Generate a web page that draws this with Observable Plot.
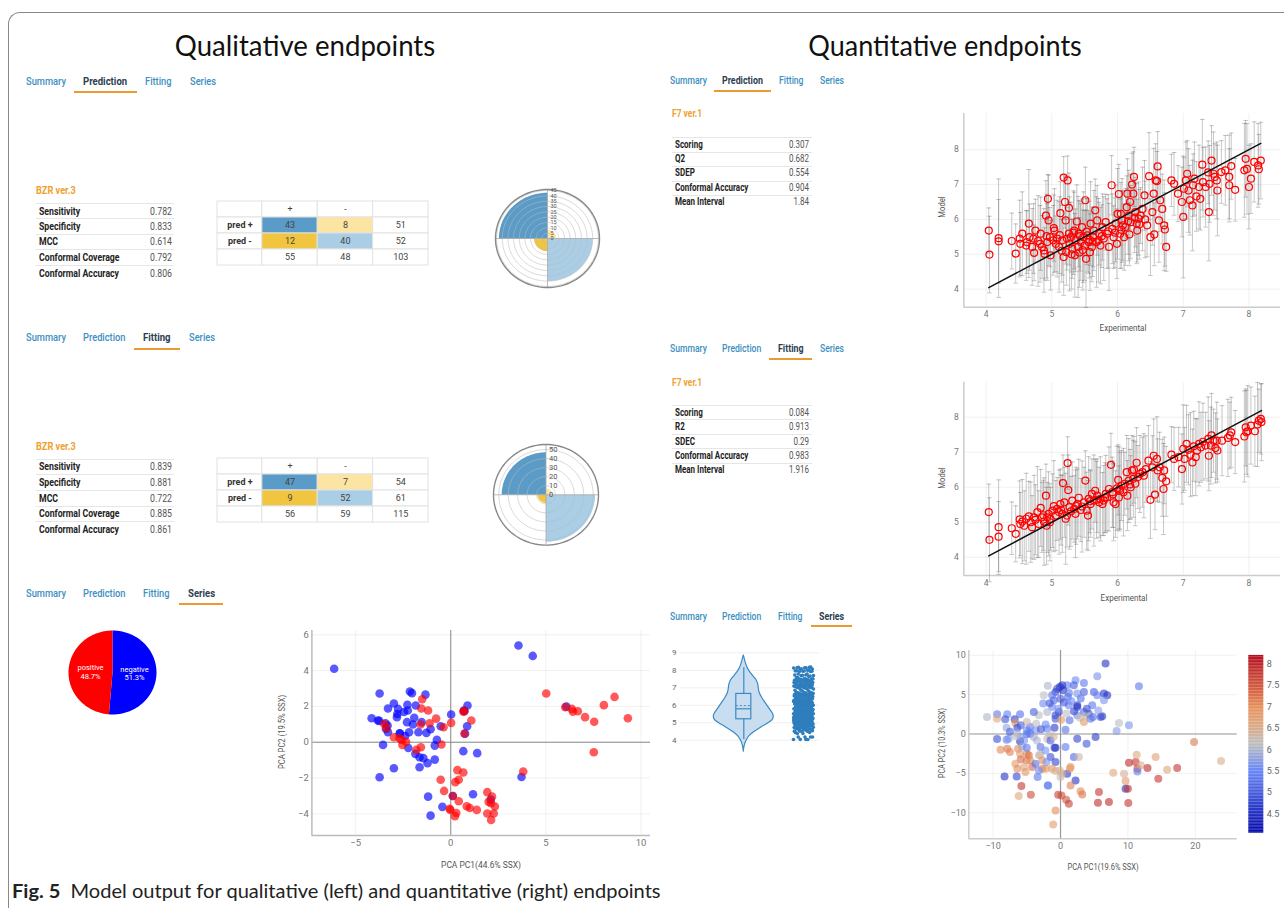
<!DOCTYPE html>
<html><head><meta charset="utf-8">
<script src="https://cdn.jsdelivr.net/npm/d3@7"></script>
<script src="https://cdn.jsdelivr.net/npm/@observablehq/plot@0.6"></script>
<style>
html,body{margin:0;padding:0;background:#fff;}
body{width:1284px;height:908px;position:relative;overflow:hidden;}
</style></head><body>
<script>
// ---------------- DATA ----------------
const panelTitles = ["Qualitative endpoints", "Quantitative endpoints"];
const captionBold = "Fig. 5";
const captionText = "Model output for qualitative (left) and quantitative (right) endpoints";
const tabNames = ["Summary", "Prediction", "Fitting", "Series"];
const qualModel = "BZR ver.3";
const quantModel = "F7 ver.1";
const qualMetricNames = ["Sensitivity", "Specificity", "MCC", "Conformal Coverage", "Conformal Accuracy"];
const qualPredValues = ["0.782", "0.833", "0.614", "0.792", "0.806"];
const qualFitValues = ["0.839", "0.881", "0.722", "0.885", "0.861"];
const quantPredNames = ["Scoring", "Q2", "SDEP", "Conformal Accuracy", "Mean Interval"];
const quantPredValues = ["0.307", "0.682", "0.554", "0.904", "1.84"];
const quantFitNames = ["Scoring", "R2", "SDEC", "Conformal Accuracy", "Mean Interval"];
const quantFitValues = ["0.084", "0.913", "0.29", "0.983", "1.916"];
const cmRowLabels = ["pred +", "pred -"];
const cmColLabels = ["+", "-"];
const cmPred = [[43, 8], [12, 40]];
const cmFit = [[47, 7], [9, 52]];
const polarTicksPred = [0, 5, 10, 15, 20, 25, 30, 35, 40, 45];
const polarTicksFit = [0, 10, 20, 30, 40, 50];
const pieLabels = ["negative", "positive"];
const pieValues = [51.3, 48.7];
const pcaQualAxes = ["PCA PC1(44.6% SSX)", "PCA PC2 (19.5% SSX)"];
const pcaQuantAxes = ["PCA PC1(19.6% SSX)", "PCA PC2 (10.3% SSX)"];
const scatterAxes = ["Experimental", "Model"];

// qualitative PCA scores (negative = blue, positive = red)
const pcaNegative = [[-6.13,4.10],[3.56,5.40],[4.31,4.82],[-3.74,2.72],[-2.15,2.83],[-2.04,2.74],[-1.33,2.66],[-2.99,2.16],[-3.30,1.88],[-2.77,1.86],[-2.81,1.58],[-2.46,1.69],[-2.28,2.09],[-2.26,1.77],[-1.84,2.05],[-4.16,1.34],[-3.83,1.21],[-3.76,1.19],[-2.83,1.40],[-1.92,1.36],[-2.30,1.12],[-1.99,0.99],[-1.53,1.12],[-3.32,0.93],[-3.30,0.56],[-2.68,0.50],[-2.19,0.56],[-1.70,0.56],[-1.28,0.52],[-1.06,0.73],[-0.53,0.89],[0.02,1.55],[0.88,2.05],[0.69,1.77],[0.86,0.89],[-0.73,0.13],[-3.56,-0.15],[-2.23,-0.32],[-1.86,-0.65],[-1.64,-0.84],[-1.44,-0.89],[-0.84,-0.19],[-0.84,-0.97],[-1.22,-1.17],[-1.64,-1.40],[-2.99,-1.45],[-3.74,-1.96],[0.66,-0.50],[1.39,-0.61],[6.08,1.99],[3.72,-1.94],[-1.19,-3.04],[-0.44,-3.61],[-1.06,-4.10],[1.17,-2.91],[2.10,-3.20],[0.11,-3.00],[0.71,1.73],[0.75,0.48],[-2.68,0.48],[-2.40,0.35],[-3.43,1.06],[-3.41,0.75]];
const pcaPositive = [[-1.50,2.40],[-1.55,1.88],[-1.19,1.77],[-0.77,1.32],[-1.11,1.06],[-1.59,0.99],[-0.38,0.84],[0.02,1.08],[1.08,1.21],[0.66,1.71],[-2.99,0.28],[-2.59,0.13],[-2.35,0.02],[-2.54,-0.15],[-1.57,-0.28],[-1.81,-0.43],[-0.49,-0.13],[5.02,2.72],[6.02,1.96],[6.37,1.86],[6.42,1.71],[6.68,1.73],[7.06,1.40],[7.54,1.14],[8.05,2.07],[8.61,2.53],[9.31,1.34],[7.52,-0.56],[3.81,-1.64],[0.35,-1.56],[0.66,-1.69],[-0.53,-2.10],[0.24,-2.23],[0.42,-2.10],[-0.35,-2.72],[0.42,-3.30],[-0.02,-3.78],[-0.06,-3.72],[0.29,-3.95],[0.22,-4.13],[0.84,-3.58],[1.00,-3.67],[1.37,-3.78],[1.92,-2.79],[2.17,-3.04],[1.99,-3.33],[2.32,-3.59],[1.92,-3.98],[2.26,-3.98],[2.12,-4.34],[0.11,-3.00],[-3.50,1.02],[-3.38,0.78],[-2.70,0.22],[0.72,0.48],[0.72,1.75],[2.12,-3.40]];

// quantitative: [experimental, model, half interval]
const predPoints = [[4.04,5.68,0.65],[4.05,4.99,1.1],[4.19,5.46,1.7],[4.19,5.37,1.2],[4.39,5.38,0.8],[4.45,5.02,0.85],[4.51,5.45,1.1],[4.52,5.30,0.9],[4.55,5.59,1.2],[4.61,5.25,1.0],[4.65,5.88,1.55],[4.66,5.49,0.95],[4.70,5.21,1.1],[4.73,5.04,0.8],[4.75,5.68,0.9],[4.79,5.38,1.3],[4.83,5.59,1.05],[4.85,5.21,0.9],[4.88,5.11,1.2],[4.89,5.01,0.75],[4.91,6.11,1.0],[4.93,5.35,1.1],[4.94,6.59,0.7],[4.95,5.97,1.3],[4.97,5.49,0.85],[4.98,4.97,1.0],[5.03,5.75,0.95],[5.04,5.68,1.2],[5.06,5.30,0.8],[5.08,5.45,1.1],[5.11,5.21,1.3],[5.13,6.18,0.9],[5.16,5.40,1.0],[5.18,4.92,1.1],[5.18,7.20,0.6],[5.20,6.50,0.75],[5.21,5.97,1.25],[5.22,5.06,0.95],[5.24,7.12,0.7],[5.26,6.33,1.0],[5.26,5.59,0.9],[5.27,5.30,1.35],[5.29,5.49,1.0],[5.31,5.16,0.85],[5.34,5.68,1.1],[5.35,4.97,1.2],[5.36,5.40,0.9],[5.38,5.94,1.05],[5.40,5.21,1.45],[5.41,5.59,0.95],[5.44,5.35,1.1],[5.46,5.78,0.8],[5.48,5.49,1.3],[5.50,5.25,1.0],[5.51,6.55,0.95],[5.52,4.87,1.4],[5.54,5.54,1.05],[5.56,5.35,0.9],[5.59,5.88,1.2],[5.61,5.21,1.0],[5.63,5.49,0.85],[5.64,5.68,1.15],[5.66,6.26,0.9],[5.68,5.35,1.3],[5.69,5.97,1.0],[5.72,5.59,0.9],[5.74,5.25,1.1],[5.77,5.78,0.95],[5.79,5.45,1.2],[5.82,5.92,0.8],[5.84,5.59,1.0],[5.87,5.21,1.25],[5.91,6.98,0.85],[5.92,5.73,1.0],[5.94,5.49,0.9],[5.97,5.88,1.1],[5.99,5.30,1.0],[6.00,6.16,1.3],[6.02,6.73,0.85],[6.04,5.59,1.0],[6.05,6.16,0.9],[6.07,5.97,1.2],[6.10,5.49,0.95],[6.12,5.78,1.1],[6.14,6.35,0.9],[6.15,6.74,1.0],[6.17,6.11,1.3],[6.19,6.50,0.8],[6.20,5.92,1.05],[6.22,7.00,0.9],[6.24,6.74,1.2],[6.25,7.22,0.85],[6.27,6.21,1.0],[6.29,5.88,1.15],[6.30,5.68,0.9],[6.32,6.02,1.05],[6.35,6.11,0.8],[6.38,6.30,1.2],[6.41,6.69,1.0],[6.45,5.83,0.9],[6.48,7.24,1.25],[6.50,5.49,1.1],[6.53,6.21,0.95],[6.55,6.74,1.3],[6.56,5.57,0.9],[6.58,7.12,1.05],[6.60,7.10,0.85],[6.61,7.52,1.0],[6.63,5.97,1.2],[6.65,6.55,0.9],[6.68,6.30,1.0],[6.71,5.83,1.3],[6.72,5.71,1.05],[6.74,5.21,0.7],[6.82,7.12,0.75],[6.86,7.02,0.9],[6.92,6.74,0.8],[6.98,6.50,1.0],[7.00,6.07,1.75],[7.01,6.88,0.9],[7.04,7.12,1.1],[7.06,7.31,0.95],[7.08,6.83,1.2],[7.10,6.55,1.0],[7.14,6.40,1.3],[7.15,6.98,0.9],[7.17,7.17,1.05],[7.20,6.66,1.0],[7.24,6.93,1.2],[7.26,6.59,0.9],[7.29,7.57,1.3],[7.30,7.07,1.0],[7.34,6.93,1.15],[7.38,7.35,0.9],[7.39,6.21,1.4],[7.40,7.02,1.1],[7.43,7.69,1.0],[7.46,7.31,1.2],[7.48,7.22,0.95],[7.51,7.12,1.1],[7.52,6.83,1.3],[7.58,7.36,0.9],[7.64,7.41,1.0],[7.70,7.22,1.2],[7.70,6.98,1.05],[7.73,7.53,0.95],[7.79,6.85,0.9],[7.93,7.41,1.35],[7.95,7.74,1.1],[7.97,7.45,1.3],[8.00,6.93,1.2],[8.03,7.17,1.0],[8.08,7.65,1.15],[8.14,7.55,1.2],[8.15,7.44,1.0],[8.18,7.69,1.1],[5.02,5.40,1.0],[5.12,5.55,1.1],[5.23,5.45,0.9],[5.33,5.62,1.2],[5.43,5.52,1.0],[5.53,5.65,0.95],[5.57,5.42,1.1],[5.62,5.36,1.0],[5.71,5.40,1.2],[5.76,5.52,0.9],[5.86,5.66,1.05],[5.96,5.62,1.0],[6.06,5.70,1.1],[6.16,5.95,0.95],[6.26,6.05,1.0],[4.82,5.30,1.1],[4.72,5.45,1.0],[4.62,5.35,0.9],[4.92,5.52,1.2],[5.42,5.05,1.0],[5.58,5.06,1.1],[5.15,5.10,0.9],[5.30,5.00,1.0],[5.47,5.12,1.15],[6.33,5.86,1.0],[6.42,6.00,1.1],[6.08,5.83,1.0],[6.18,5.57,0.9]];
const fitPoints = [[4.04,5.29,0.8],[4.05,4.50,1.2],[4.19,4.86,1.35],[4.19,4.59,1.0],[4.39,4.83,0.75],[4.45,4.67,0.8],[4.51,5.08,1.1],[4.52,4.95,0.9],[4.55,5.02,1.2],[4.58,4.90,1.0],[4.61,5.10,1.3],[4.65,5.17,1.0],[4.68,5.00,1.15],[4.70,4.86,0.9],[4.73,5.14,1.2],[4.75,5.07,1.0],[4.78,5.29,1.3],[4.80,4.95,0.95],[4.83,5.41,1.1],[4.85,5.14,1.0],[4.88,5.02,1.25],[4.91,5.76,0.9],[4.92,4.90,1.1],[4.93,5.14,1.0],[4.95,5.24,1.2],[4.98,5.10,0.9],[5.01,5.33,1.05],[5.03,5.46,1.3],[5.06,5.19,1.0],[5.08,5.38,0.9],[5.11,5.29,1.2],[5.13,5.52,1.0],[5.16,5.24,1.1],[5.17,6.12,0.8],[5.19,5.57,1.0],[5.21,5.10,1.3],[5.23,5.19,0.9],[5.24,6.69,0.75],[5.25,5.92,1.0],[5.27,5.43,1.2],[5.29,5.31,1.0],[5.31,5.62,1.1],[5.34,5.38,0.95],[5.36,5.24,1.25],[5.39,5.52,1.0],[5.41,5.70,1.1],[5.44,5.35,0.9],[5.46,5.45,1.3],[5.49,5.57,1.0],[5.51,6.19,0.85],[5.53,5.33,1.1],[5.55,5.19,1.0],[5.56,5.67,1.2],[5.59,5.52,0.95],[5.61,5.81,1.0],[5.64,5.62,1.3],[5.66,5.90,0.9],[5.69,5.76,1.05],[5.72,5.57,1.0],[5.74,5.67,1.2],[5.77,5.52,0.9],[5.79,5.62,1.0],[5.82,5.81,1.1],[5.84,5.71,0.95],[5.87,5.95,1.2],[5.90,6.64,0.9],[5.92,5.86,1.0],[5.94,5.57,1.1],[5.97,5.52,0.95],[5.99,5.97,1.2],[6.01,6.21,1.0],[6.02,5.71,0.9],[6.04,5.90,1.1],[6.06,6.05,1.0],[6.09,5.86,1.25],[6.11,6.10,0.9],[6.14,6.43,1.05],[6.15,5.76,1.0],[6.17,6.19,1.2],[6.20,6.00,0.9],[6.22,6.48,1.0],[6.24,6.24,1.1],[6.25,6.50,0.95],[6.27,6.10,1.2],[6.29,6.70,1.0],[6.31,6.29,0.9],[6.34,6.38,1.1],[6.38,6.43,1.0],[6.40,6.33,1.2],[6.43,6.52,0.95],[6.47,6.76,1.0],[6.50,5.64,1.1],[6.53,6.57,0.9],[6.55,6.90,1.05],[6.57,5.79,1.0],[6.60,6.81,1.2],[6.61,6.48,0.9],[6.64,6.57,1.0],[6.68,6.27,1.1],[6.70,5.95,1.3],[6.71,6.48,0.95],[6.74,6.17,1.0],[6.82,6.93,0.8],[6.86,6.81,0.9],[6.93,6.86,0.85],[6.98,6.52,1.0],[7.00,7.10,1.25],[7.02,6.81,0.9],[7.05,7.24,1.1],[7.08,7.07,1.0],[7.11,6.93,1.2],[7.14,6.71,0.95],[7.16,7.17,1.0],[7.19,6.86,1.1],[7.21,7.05,0.9],[7.24,7.24,1.2],[7.27,7.14,1.0],[7.30,7.30,1.1],[7.34,7.19,0.95],[7.38,7.38,1.2],[7.39,6.90,1.0],[7.42,7.19,1.1],[7.43,7.48,1.2],[7.46,7.33,0.9],[7.49,7.12,1.0],[7.51,7.33,1.1],[7.52,7.05,0.9],[7.59,7.33,1.0],[7.68,7.41,1.1],[7.71,7.48,0.95],[7.73,7.57,1.0],[7.79,7.29,0.9],[7.93,7.45,1.3],[7.95,7.71,1.1],[7.96,7.57,1.2],[7.98,7.60,1.3],[8.03,7.76,1.1],[8.09,7.60,1.0],[8.13,7.79,1.2],[8.15,7.90,0.9],[8.18,7.95,1.0],[8.19,7.86,1.1],[5.14,5.35,1.0],[5.37,5.47,1.1],[5.58,5.60,0.9],[5.81,5.70,1.0],[6.03,5.95,1.2],[6.19,6.08,1.0],[5.68,5.64,1.1],[5.93,5.80,0.95],[4.87,5.20,1.0],[4.97,5.00,1.1]];

// violin of the series values
const violinY = [8.85,8.6,8.3,8.0,7.7,7.45,7.2,6.95,6.7,6.4,6.1,5.8,5.55,5.35,5.15,4.95,4.75,4.5,4.25,4.0,3.75,3.5,3.35];
const violinDensity = [0,0.04,0.09,0.17,0.30,0.42,0.48,0.50,0.53,0.62,0.74,0.86,0.96,1.0,0.96,0.80,0.60,0.38,0.20,0.10,0.04,0.01,0];
const boxQuartiles = [4.05, 5.2, 5.8, 6.65, 8.15]; // low whisker, Q1, median, Q3, high whisker
const boxMean = 5.98;

// quantitative PCA scores: [PC1, PC2, value]
const pcaQuant = [[6.68,8.94,4.5],[11.63,6.06,5.3],[5.45,7.33,5.6],[2.23,6.82,5.5],[3.47,6.48,5.3],[0.99,6.19,5.4],[0.25,6.19,4.6],[-0.1,5.97,4.4],[-0.5,5.76,4.8],[0.4,5.55,4.5],[-0.74,5.34,4.7],[1.24,5.21,5.3],[1.98,6.19,5.0],[2.48,5.13,5.6],[3.47,5.34,5.0],[-1.88,6.14,6.0],[-2.48,4.92,6.1],[-1.24,4.92,5.3],[-0.99,4.28,5.1],[0,4.49,5.0],[1.09,4.70,5.2],[2.48,3.64,4.6],[2.48,3.43,4.5],[1.24,3.64,5.4],[4.95,5.34,5.0],[5.45,4.92,5.4],[6.44,5.13,4.6],[6.93,4.92,4.5],[6.44,4.28,5.6],[4.7,3.64,5.3],[4.2,2.58,5.0],[4.8,2.16,5.2],[5.94,2.16,4.8],[6.19,2.25,4.7],[3.47,2.80,5.1],[2.48,2.37,5.5],[2.87,2.08,6.2],[3.47,1.53,6.8],[3.81,2.37,6.3],[4.46,1.95,5.3],[-0.25,2.80,4.7],[-0.74,2.37,4.8],[-1.24,3.43,5.5],[-1.98,2.80,6.0],[-2.57,3.86,5.5],[-3.22,2.37,6.1],[-3.96,2.80,5.0],[-0.74,1.95,4.9],[0.1,1.82,6.8],[1.34,1.74,5.2],[0.74,0.55,5.2],[-0.89,0.81,4.6],[8.66,1.40,6.1],[8.32,0.38,5.7],[10.15,1.10,5.6],[2.48,-0.59,4.7],[3.86,-1.23,4.9],[5.20,-0.38,4.6],[0.74,-1.65,5.3],[-0.74,-1.74,4.5],[1.98,-2.92,5.1],[2.72,-2.92,6.3],[-0.74,-3.56,4.7],[0.99,-5.04,4.6],[2.23,-5.89,4.5],[-1.83,-6.53,5.4],[-10.9,2.16,6.0],[-9.4,2.50,5.3],[-9.4,1.95,6.6],[-7.9,2.50,5.4],[-8.2,1.86,4.9],[-6.8,1.86,4.6],[-6.0,2.50,5.2],[-6.7,1.40,6.9],[-6.4,0.81,4.7],[-8.0,0.81,5.8],[-9.4,-0.64,4.8],[-8.0,-0.72,5.4],[-7.7,-0.59,5.6],[-6.4,0.04,6.0],[-6.0,-0.93,4.5],[-5.0,0.47,5.5],[-4.5,0.89,5.3],[-5.0,1.53,6.3],[-5.0,-0.04,5.2],[-3.7,0.47,5.6],[-3.6,1.31,6.1],[-4.5,0.04,5.1],[-5.9,-0.38,5.7],[-5.4,-0.81,5.6],[-3.5,-0.81,6.0],[-1.98,0.68,5.4],[-1.58,-0.17,6.2],[-1.98,-0.59,6.2],[-1.49,-0.81,5.0],[-0.89,-1.74,4.6],[-8.9,-1.99,7.0],[-7.9,-1.86,7.2],[-7.5,-2.29,7.1],[-6.3,-1.86,7.0],[-6.0,-2.50,6.8],[-5.0,-2.50,7.0],[-4.7,-2.71,7.3],[-5.0,-3.35,7.2],[-5.9,-3.22,7.3],[-6.7,-3.77,6.8],[-6.4,-4.41,7.0],[-5.4,-4.19,6.7],[-5.2,-4.83,6.9],[-4.5,-3.35,7.0],[-4.2,-4.19,7.3],[-3.7,-3.77,5.2],[-3.2,-2.71,6.4],[-3.0,-2.63,6.2],[-2.7,-3.35,7.0],[-2.7,-4.41,7.1],[-2.2,-4.41,6.9],[-3.2,-4.62,5.5],[-3.4,-5.47,5.3],[-8.3,-5.38,4.5],[-6.5,-5.38,4.7],[-6.2,-7.88,6.6],[-5.8,-6.61,7.8],[-4.4,-7.71,7.6],[-1.9,-6.53,5.4],[-1.24,-4.41,6.9],[-0.74,-4.7,6.5],[-0.1,-4.62,6.4],[0.25,-5.04,6.5],[0,-5.47,6.2],[1.49,-4.19,7.0],[1.39,-4.41,6.8],[1.49,-6.53,7.1],[-0.35,-7.71,7.7],[0.15,-7.8,7.6],[0.84,-8.35,7.5],[1.24,-8.86,7.7],[2.97,-7.25,7.0],[3.22,-7.67,7.2],[-0.74,-9.70,7.0],[-1.09,-11.48,6.8],[5.7,-7.37,7.8],[5.55,-8.73,7.9],[7.18,-8.64,7.9],[10.05,-8.77,7.8],[7.82,-4.92,6.6],[9.41,-5.04,6.4],[9.65,-5.97,6.8],[9.65,-6.95,4.5],[10.0,-6.95,7.8],[10.15,-3.64,7.9],[11.14,-3.56,7.8],[11.29,-2.63,6.6],[11.4,-4.41,7.7],[11.4,-4.75,5.4],[11.9,-3.98,6.5],[12.9,-4.32,7.9],[14.1,-2.92,6.7],[14.5,-5.68,7.8],[15.8,-4.53,6.6],[17.3,-4.32,7.8],[19.8,-1.02,7.2],[23.8,-3.43,6.5],[-5.9,1.10,5.0],[-4.7,0.25,5.5],[-3.96,-0.38,5.9],[-2.97,-1.65,5.2],[-2.23,-2.08,5.6],[-1.49,-2.92,4.8],[-2.08,-3.56,5.6],[-5.7,-1.57,5.8],[-5.0,-1.74,5.3],[0.5,4.0,4.9],[1.6,4.2,5.5],[3.0,4.5,5.2],[3.9,3.2,4.8],[5.6,3.0,5.7],[-1.6,3.9,4.9],[-0.3,3.2,5.6],[0.9,2.6,6.1],[2.0,2.9,4.7],[-2.2,1.2,5.5],[-2.9,0.6,4.9],[-1.0,-0.3,6.3],[-6.6,-0.3,6.1],[-7.5,0.3,5.0]];
const colorbarTicks = [4.5, 5, 5.5, 6, 6.5, 7, 7.5, 8];

// ---------------- STYLE / HELPERS ----------------
const COND = 'Roboto,sans-serif';
const HUM = 'Lato,"Open Sans",sans-serif';
const roleColor = {TP: "#5b9bc7", FP: "#fce4a3", FN: "#f2c541", TN: "#a9cee5"};
const tabBlue = "#3d8fbf", tabDark = "#2c3e50", orange = "#eb9a30";
const fmt = d3.format("~g");

function T(s, x, y, o = {}) {
  const size = o.size || 10;
  const d = document.createElement("div");
  d.textContent = s;
  const tx = o.anchor === "middle" ? "-50%" : o.anchor === "end" ? "-100%" : "0";
  const origin = o.anchor === "middle" || o.rotate ? "center" : o.anchor === "end" ? "right" : "left";
  d.style.cssText = `position:absolute;left:${x}px;top:${y}px;font-family:${o.font || COND};font-size:${size}px;font-weight:${o.weight || 400};color:${o.color || "#333"};white-space:nowrap;line-height:1;transform-origin:${origin} center;`;
  document.body.appendChild(d);
  let k = o.sx || 1;
  if (o.fit) k = o.fit / d.offsetWidth;
  d.style.transform = `translate(${tx},-50%)${o.rotate ? ` rotate(${o.rotate}deg)` : ""} scaleX(${k})`;
  return d;
}
function measure(s, size, weight, font) {
  const d = T(s, 0, -100, {size, weight, font});
  const w = d.offsetWidth;
  d.remove();
  return w;
}
function box(x, y, w, h, bg) {
  const d = document.createElement("div");
  d.style.cssText = `position:absolute;left:${x}px;top:${y}px;width:${w}px;height:${h}px;background:${bg};`;
  document.body.appendChild(d);
  return d;
}
function put(svg, x, y) {
  svg.style.position = "absolute";
  svg.style.left = x + "px";
  svg.style.top = y + "px";
  document.body.appendChild(svg);
}
const baseStyle = {background: "transparent", fontFamily: COND, fontSize: "9px", color: "#777", overflow: "visible"};

const kTabL = 44.3 / measure("Prediction", 11, 700);
const kTabR = 41 / measure("Prediction", 11, 700);
const kTabL2 = 42.3 / measure("Prediction", 11, 500);
const kTabR2 = 39 / measure("Prediction", 11, 500);
function tabs(xs, y, active, ul, k, k2) {
  tabNames.forEach((t, i) => T(t, xs[i], y, {size: 11, weight: i === active ? 700 : 500, color: i === active ? tabDark : tabBlue, sx: i === active ? k : k2}));
  box(ul[0], ul[2] - 1, ul[1] - ul[0], 2, orange);
}
const kTblL = 80.3 / measure("Conformal Accuracy", 10, 700);
const kTblR = 73.6 / measure("Conformal Accuracy", 10, 700);
function metricTable(title, names, values, o, k, titleW) {
  T(title, o.tx, o.ty, {size: 11, weight: 700, color: "#f0a030", fit: titleW});
  names.forEach((n, i) => {
    box(o.x1, o.lines[i], o.x2 - o.x1, 1, "#e6e6e6");
    T(n, o.lx, o.rows[i], {size: 10, weight: 700, color: "#222", sx: k});
    T(values[i], o.vx, o.rows[i], {size: 10, color: "#555", anchor: "end", sx: k});
  });
}

// ---------------- FRAME / TITLES ----------------
const frame = box(8, 12, 1400, 1000, "transparent");
frame.style.borderLeft = "1.5px solid #888";
frame.style.borderTop = "1.5px solid #888";
frame.style.borderTopLeftRadius = "12px";

T(panelTitles[0], 305, 44, {size: 29, font: HUM, color: "#111", anchor: "middle", fit: 260});
T(panelTitles[1], 945, 44, {size: 29, font: HUM, color: "#111", anchor: "middle", fit: 274});

const cap = document.createElement("div");
cap.innerHTML = `<b>${captionBold}</b>&nbsp;&nbsp;${captionText}`;
cap.style.cssText = `position:absolute;left:12px;top:890px;font-family:${HUM};font-size:19px;color:#222;white-space:nowrap;line-height:1;transform-origin:left center;`;
document.body.appendChild(cap);
cap.style.transform = `translateY(-50%) scaleX(${649 / cap.offsetWidth})`;

// ---------------- TABS ----------------
tabs([26, 83, 145.3, 189.7], 80.7, 1, [74, 136.7, 92.3], kTabL, kTabL2);
tabs([26, 83, 143.3, 189], 336.7, 2, [134.3, 180.3, 349], kTabL, kTabL2);
tabs([26, 83, 143, 187.7], 593.3, 3, [178.9, 223.5, 604.3], kTabL, kTabL2);
tabs([670, 722, 779, 820], 80, 1, [714, 771, 90.7], kTabR, kTabR2);
tabs([670, 722, 777.7, 820], 347.7, 2, [769, 812, 358.7], kTabR, kTabR2);
tabs([670, 722, 777.7, 819], 616, 3, [810.7, 852.3, 626], kTabR, kTabR2);

// ---------------- METRIC TABLES ----------------
metricTable(qualModel, qualMetricNames, qualPredValues, {tx: 36, ty: 190, x1: 36, x2: 174, lx: 39, vx: 172,
  rows: [211.7, 226.7, 242.3, 258, 273.7], lines: [202.7, 218.3, 233.7, 249.3, 264.7]}, kTblL, 40);
metricTable(qualModel, qualMetricNames, qualFitValues, {tx: 36, ty: 446, x1: 36, x2: 174, lx: 39, vx: 172,
  rows: [467.3, 483, 498.7, 514.3, 530], lines: [458.7, 474.3, 490, 505.7, 521]}, kTblL, 40);
metricTable(quantModel, quantPredNames, quantPredValues, {tx: 671.7, ty: 113.3, x1: 671.7, x2: 811.7, lx: 674.7, vx: 809.3,
  rows: [144.7, 159, 173.3, 187.7, 202], lines: [136.7, 151.7, 166, 180.7, 195]}, kTblR, 30);
metricTable(quantModel, quantFitNames, quantFitValues, {tx: 671.7, ty: 381.7, x1: 671.7, x2: 811.7, lx: 674.7, vx: 809.3,
  rows: [412.7, 427.3, 441.7, 456, 470.3], lines: [404.7, 419.3, 433.7, 448.3, 462.7]}, kTblR, 30);

// ---------------- CONFUSION MATRICES ----------------
// column extents in units of one value column (label column is narrower)
const cmColumns = {lab: [-0.81, 0], c0: [0, 1], c1: [1, 2], tot: [2, 3]};
function confMatrix(cm, left, top) {
  const roles = [["TP", "FP"], ["FN", "TN"]];
  const cells = [
    {c: "lab", r: "h", t: ""}, {c: "c0", r: "h", t: cmColLabels[0]}, {c: "c1", r: "h", t: cmColLabels[1]}, {c: "tot", r: "h", t: ""}
  ];
  cm.forEach((row, i) => {
    cells.push({c: "lab", r: "r" + i, t: cmRowLabels[i], bold: true});
    cells.push({c: "c0", r: "r" + i, t: row[0], role: roles[i][0]});
    cells.push({c: "c1", r: "r" + i, t: row[1], role: roles[i][1]});
    cells.push({c: "tot", r: "r" + i, t: row[0] + row[1]});
  });
  const c0 = cm[0][0] + cm[1][0], c1 = cm[0][1] + cm[1][1];
  cells.push({c: "lab", r: "t", t: ""}, {c: "c0", r: "t", t: c0}, {c: "c1", r: "t", t: c1}, {c: "tot", r: "t", t: c0 + c1});
  const mid = d => (cmColumns[d.c][0] + cmColumns[d.c][1]) / 2;
  const svg = Plot.plot({
    width: 213, height: 69, margin: 1, style: {...baseStyle, fontSize: "9px", color: "#444"},
    x: {domain: [-0.81, 3], axis: null},
    y: {type: "band", domain: ["h", "r0", "r1", "t"], padding: 0, axis: null},
    color: {type: "identity"},
    marks: [
      Plot.barX(cells, {x1: d => cmColumns[d.c][0], x2: d => cmColumns[d.c][1], y: "r", fill: d => roleColor[d.role] || "#fff", stroke: "#e2e2e2"}),
      Plot.text(cells.filter(d => !d.bold), {x: mid, y: "r", text: d => String(d.t), fill: "#444"}),
      Plot.text(cells.filter(d => d.bold), {x: mid, y: "r", text: d => String(d.t), fill: "#333", fontWeight: "bold"})
    ]
  });
  put(svg, left - 1, top - 1);
}
confMatrix(cmPred, 216.7, 199.3);
confMatrix(cmFit, 216.7, 456);

// ---------------- POLAR (ROSE) CHARTS ----------------
function polar(cm, ticks, cx, cy, rx, ry, fs) {
  const counts = [
    {role: "FP", v: cm[0][1], a0: 0, a1: 90},
    {role: "TP", v: cm[0][0], a0: 90, a1: 180},
    {role: "FN", v: cm[1][0], a0: 180, a1: 270},
    {role: "TN", v: cm[1][1], a0: 270, a1: 360}
  ];
  const R = d3.max(counts, d => d.v) * 1.07;
  const rad = Math.PI / 180;
  const wedge = q => [{x: 0, y: 0}, ...d3.range(q.a0, q.a1 + 0.001, 2).map(a => ({x: q.v * Math.cos(a * rad), y: q.v * Math.sin(a * rad)})), {x: 0, y: 0}];
  const ring = r => d3.range(0, 361, 3).map(a => ({x: r * Math.cos(a * rad), y: r * Math.sin(a * rad)}));
  const marks = [];
  counts.forEach(q => marks.push(Plot.line(wedge(q), {x: "x", y: "y", fill: roleColor[q.role], stroke: "none"})));
  ticks.filter(t => t > 0).forEach(t => marks.push(Plot.line(ring(t), {x: "x", y: "y", stroke: "#bbb", strokeOpacity: 0.7, strokeWidth: 0.8})));
  marks.push(Plot.ruleX([0], {y1: -R, y2: R, stroke: "#aaa", strokeWidth: 0.8}));
  marks.push(Plot.ruleY([0], {x1: -R, x2: R, stroke: "#aaa", strokeWidth: 0.8}));
  marks.push(Plot.line(ring(R), {x: "x", y: "y", stroke: "#888", strokeWidth: 1.4}));
  marks.push(Plot.text(ticks, {x: 0, y: d => d, text: d => String(d), dx: 3, textAnchor: "start", fill: "#555", fontSize: fs}));
  const svg = Plot.plot({
    width: 2 * rx + 4, height: 2 * ry + 4, margin: 2, style: baseStyle,
    x: {domain: [-R, R], axis: null}, y: {domain: [-R, R], axis: null}, marks
  });
  put(svg, cx - rx - 2, cy - ry - 2);
}
polar(cmPred, polarTicksPred, 546.5, 238, 52, 49, 5.5);
polar(cmFit, polarTicksFit, 545.8, 494.7, 52.5, 50.3, 7.5);

// ---------------- PIE ----------------
(function () {
  const arcs = d3.pie().sort(null)(pieValues);
  const colors = {negative: "#0000ff", positive: "#ff0000"};
  const marks = [];
  const lbl = [];
  arcs.forEach((a, i) => {
    const pts = [{x: 0, y: 0}, ...d3.range(a.startAngle, a.endAngle, 0.02).concat([a.endAngle]).map(t => ({x: Math.sin(t), y: Math.cos(t)})), {x: 0, y: 0}];
    marks.push(Plot.line(pts, {x: "x", y: "y", fill: colors[pieLabels[i]], stroke: "none"}));
    const m = (a.startAngle + a.endAngle) / 2;
    lbl.push({x: 0.5 * Math.sin(m), y: 0.5 * Math.cos(m), t: pieLabels[i] + "\n" + pieValues[i] + "%"});
  });
  marks.push(Plot.text(lbl, {x: "x", y: "y", text: "t", fill: "white", fontSize: 7.5, lineHeight: 1.15}));
  const svg = Plot.plot({width: 88, height: 84, margin: 0, style: baseStyle,
    x: {domain: [-1, 1], axis: null}, y: {domain: [-1, 1], axis: null}, marks});
  put(svg, 67.5, 630);
})();

// ---------------- QUALITATIVE PCA ----------------
(function () {
  const xd = [-7.3, 10.5], yd = [-5.21, 6.24];
  const svg = Plot.plot({
    width: 400, height: 255, marginLeft: 61.4, marginRight: 0, marginTop: 10, marginBottom: 40,
    style: {...baseStyle, fontSize: "9.5px", color: "#777"},
    x: {domain: xd, ticks: [-5, 0, 5, 10], tickFormat: fmt, tickSize: 0, tickPadding: 4, grid: true, label: null},
    y: {domain: yd, ticks: [-4, -2, 0, 2, 4, 6], tickFormat: fmt, tickSize: 0, tickPadding: 3, grid: true, label: null},
    marks: [
      Plot.ruleX([0], {stroke: "#888"}),
      Plot.ruleY([0], {stroke: "#888"}),
      Plot.ruleX([xd[0]], {stroke: "#bbb", strokeWidth: 1.5}),
      Plot.ruleY([yd[0]], {stroke: "#bbb", strokeWidth: 1.5}),
      Plot.dot(pcaNegative, {x: d => d[0], y: d => d[1], r: 4.3, fill: "#0000ff", fillOpacity: 0.65}),
      Plot.dot(pcaPositive, {x: d => d[0], y: d => d[1], r: 4.3, fill: "#ff0000", fillOpacity: 0.65})
    ]
  });
  put(svg, 250, 620);
  T(pcaQualAxes[0], 481, 865, {size: 9.5, color: "#555", anchor: "middle", fit: 80});
  T(pcaQualAxes[1], 282, 731.7, {size: 9.5, color: "#555", anchor: "middle", rotate: -90, fit: 74});
})();

// ---------------- QUANTITATIVE SCATTERS ----------------
function qScatter(points, top, height, mt, mb, yd) {
  const xd = [3.66, 8.48];
  const ext = d3.extent(points, p => p[0]);
  const lo = p => p[1] - p[2], hi = p => p[1] + p[2];
  const svg = Plot.plot({
    width: 364, height, marginLeft: 43.3, marginRight: 4, marginTop: mt, marginBottom: mb,
    style: {...baseStyle, fontSize: "8.5px", color: "#777"},
    x: {domain: xd, ticks: [4, 5, 6, 7, 8], tickFormat: fmt, tickSize: 0, tickPadding: 4, grid: true, label: null},
    y: {domain: yd, ticks: [4, 5, 6, 7, 8], tickFormat: fmt, tickSize: 0, tickPadding: 5, grid: true, label: null},
    marks: [
      Plot.ruleX([xd[0]], {stroke: "#ccc", strokeWidth: 1.5}),
      Plot.ruleY([yd[0]], {stroke: "#ccc", strokeWidth: 1.5}),
      Plot.ruleX(points, {x: p => p[0], y1: lo, y2: hi, stroke: "#444", strokeOpacity: 0.3}),
      Plot.link(points, {x1: p => p[0] - 0.035, x2: p => p[0] + 0.035, y1: lo, y2: lo, stroke: "#444", strokeOpacity: 0.3}),
      Plot.link(points, {x1: p => p[0] - 0.035, x2: p => p[0] + 0.035, y1: hi, y2: hi, stroke: "#444", strokeOpacity: 0.3}),
      Plot.dot(points, {x: p => p[0], y: p => p[1], r: 3.5, stroke: "#ff0000", strokeWidth: 1.2}),
      Plot.line(ext, {x: d => d, y: d => d, stroke: "#111", strokeWidth: 1.5})
    ]
  });
  put(svg, 920, top);
}
qScatter(predPoints, 100, 240, 13, 33.3, [3.48, 9.04]);
T(scatterAxes[0], 1123, 328, {size: 9.5, color: "#555", anchor: "middle", fit: 46.7});
T(scatterAxes[1], 941.7, 206.7, {size: 9.5, color: "#555", anchor: "middle", rotate: -90, fit: 21});
qScatter(fitPoints, 370, 238, 11.7, 33, [3.48, 9.0]);
T(scatterAxes[0], 1124, 598, {size: 9.5, color: "#555", anchor: "middle", fit: 46.7});
T(scatterAxes[1], 941.7, 478, {size: 9.5, color: "#555", anchor: "middle", rotate: -90, fit: 21});

// ---------------- VIOLIN + STRIP ----------------
(function () {
  const vc = 63.3, strip = 123, halfW = 30, boxW = 7.5;
  const vrows = violinY.map((y, i) => ({y, w: violinDensity[i]}));
  const stripVals = [...predPoints.map(p => p[0]), ...fitPoints.map(p => p[0])];
  const [wLo, q1, med, q3, wHi] = boxQuartiles;
  const blue = "#3b89c3";
  const svg = Plot.plot({
    width: 170, height: 122, marginLeft: 20, marginRight: 11, marginTop: 10.6, marginBottom: 10,
    style: {...baseStyle, fontSize: "8px", color: "#666"},
    x: {domain: [0, 139], axis: null},
    y: {domain: [3.3, 9.1], ticks: [4, 5, 6, 7, 8, 9], tickFormat: fmt, tickSize: 0, tickPadding: 4, grid: true, label: null},
    marks: [
      Plot.areaX(vrows, {y: "y", x1: d => vc - d.w * halfW, x2: d => vc + d.w * halfW, fill: "#c8def0", stroke: blue, strokeWidth: 1.2, curve: "catmull-rom"}),
      Plot.ruleX([vc], {y1: wLo, y2: q1, stroke: blue, strokeWidth: 1.2}),
      Plot.ruleX([vc], {y1: q3, y2: wHi, stroke: blue, strokeWidth: 1.2}),
      Plot.rect([0], {x1: vc - boxW, x2: vc + boxW, y1: q1, y2: q3, fill: "#c8def0", stroke: blue, strokeWidth: 1.2}),
      Plot.ruleY([med], {x1: vc - boxW, x2: vc + boxW, stroke: blue, strokeWidth: 1.2}),
      Plot.ruleY([boxMean], {x1: vc - boxW, x2: vc + boxW, stroke: blue, strokeWidth: 1, strokeDasharray: "2,2"}),
      Plot.dot(stripVals, {x: (d, i) => strip + (((i * 0.6180339887) % 1) - 0.5) * 20, y: d => d, r: 1.8, fill: "#2e7ebd"})
    ]
  });
  put(svg, 660, 640);
})();

// ---------------- QUANTITATIVE PCA ----------------
const quantColor = {type: "linear", domain: [4.05, 5.50, 6.12, 6.54, 6.95, 8.2],
  range: ["rgb(5,10,172)", "rgb(106,137,247)", "rgb(190,190,190)", "rgb(220,170,132)", "rgb(230,145,90)", "rgb(178,10,28)"]};
(function () {
  const xd = [-13.6, 26.2], yd = [-13.3, 10.6];
  const svg = Plot.plot({
    width: 364, height: 243.3, marginLeft: 48.3, marginRight: 47.3, marginTop: 10, marginBottom: 45,
    style: {...baseStyle, fontSize: "9px", color: "#777"},
    x: {domain: xd, ticks: [-10, 0, 10, 20], tickFormat: fmt, tickSize: 0, tickPadding: 4, grid: true, label: null},
    y: {domain: yd, ticks: [-10, -5, 0, 5, 10], tickFormat: fmt, tickSize: 0, tickPadding: 3, grid: true, label: null},
    color: quantColor,
    marks: [
      Plot.ruleX([0], {stroke: "#999", strokeWidth: 1.2}),
      Plot.ruleY([0], {stroke: "#999", strokeWidth: 1.2}),
      Plot.ruleX([xd[0]], {stroke: "#ccc", strokeWidth: 1.5}),
      Plot.ruleY([yd[0]], {stroke: "#ccc", strokeWidth: 1.5}),
      Plot.dot(pcaQuant, {x: d => d[0], y: d => d[1], fill: d => d[2], r: 4, fillOpacity: 0.6})
    ]
  });
  put(svg, 920, 640);
  T(pcaQuantAxes[0], 1103, 866.7, {size: 9.5, color: "#555", anchor: "middle", fit: 71.3});
  T(pcaQuantAxes[1], 941.7, 743, {size: 9.5, color: "#555", anchor: "middle", rotate: -90, fit: 70});

  const dom = quantColor.domain;
  const step = (dom[dom.length - 1] - dom[0]) / 120;
  const ramp = d3.range(dom[0], dom[dom.length - 1], step);
  const cb = Plot.plot({
    width: 40, height: 198, marginLeft: 4.3, marginRight: 20.7, marginTop: 10, marginBottom: 10.3,
    style: {...baseStyle, fontSize: "9px", color: "#666"},
    x: {domain: [0, 1], axis: null},
    y: {domain: [dom[0], dom[dom.length - 1]], ticks: colorbarTicks, tickFormat: fmt, tickSize: 0, tickPadding: 3, axis: "right", label: null},
    color: quantColor,
    marks: [Plot.rect(ramp, {x1: 0, x2: 1, y1: d => d, y2: d => d + step * 1.05, fill: d => d})]
  });
  put(cb, 1244, 645);
})();
</script>
</body></html>
